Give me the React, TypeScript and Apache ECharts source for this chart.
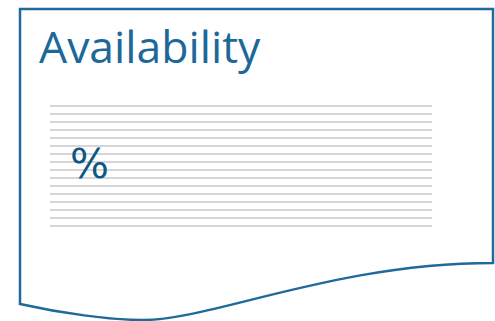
import React, { useEffect, useRef } from "react";
import * as echarts from "echarts";

const titleText = "Availability";
const unitText = "%";
// ruled lines of the blank document (value ticks 0..15)
const ruleTicks = [0, 1, 2, 3, 4, 5, 6, 7, 8, 9, 10, 11, 12, 13, 14, 15];
const seriesValues: number[] = [];

const docPath =
  "M20,304 L20,9 L493,9 L493,263 C335,263 212,320 143,320 C110,320 60,313 20,304 Z";

echarts.graphic.registerShape("docShape", echarts.graphic.extendPath(docPath, {}) as any);

export default function App() {
  const ref = useRef<HTMLDivElement>(null);
  useEffect(() => {
    if (!ref.current) return;
    const chart = echarts.init(ref.current, undefined, { renderer: "svg" });
    chart.setOption({
      animation: false,
      backgroundColor: "#ffffff",
      title: {
        text: titleText,
        left: 39,
        top: 23,
        padding: 0,
        textStyle: {
          fontFamily: "Open Sans",
          fontSize: 44.5,
          fontWeight: "normal",
          color: "#1c6899",
        },
      },
      grid: { left: 50, right: 63, top: 105.5, height: 120 },
      xAxis: { type: "value", min: 0, max: 1, show: false },
      yAxis: {
        type: "value",
        min: ruleTicks[0],
        max: ruleTicks[ruleTicks.length - 1],
        interval: 1,
        axisLine: { show: false },
        axisTick: { show: false },
        axisLabel: { show: false },
        splitLine: { show: true, lineStyle: { color: "#d6d6d6", width: 2 } },
      },
      series: [{ type: "line", data: seriesValues, silent: true }],
      graphic: [
        {
          type: "docShape",
          x: 0,
          y: 0,
          z: 10,
          silent: true,
          style: { fill: "none", stroke: "#1d6a9b", lineWidth: 2.5 },
        },
        {
          type: "text",
          x: 70,
          y: 143,
          z: 10,
          style: {
            text: unitText,
            fontFamily: "DejaVu Sans",
            fontSize: 41,
            fill: "#0f5784",
            verticalAlign: "top",
          },
        },
      ],
    });
    return () => chart.dispose();
  }, []);
  return (
    <div
      ref={ref}
      style={{ position: "absolute", left: 0, top: 0, width: 495, height: 321 }}
    />
  );
}
